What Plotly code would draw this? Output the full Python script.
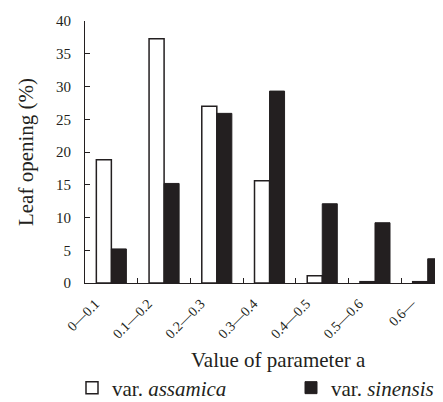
import plotly.graph_objects as go

categories = ["0—0.1", "0.1—0.2", "0.2—0.3", "0.3—0.4", "0.4—0.5", "0.5—0.6", "0.6—"]
assamica = [18.8, 37.3, 27.0, 15.6, 1.1, 0.2, 0.2]
sinensis = [5.2, 15.2, 25.9, 29.3, 12.1, 9.2, 3.7]
y_ticks = [0, 5, 10, 15, 20, 25, 30, 35, 40]

font_family = "Liberation Serif"
ink = "#231f20"
OFF = 8  # page body margin
W, H = 443 - OFF, 402 - OFF

fig = go.Figure()
fig.add_trace(go.Bar(
    x=categories, y=assamica, name="var. <i>assamica</i>", legend="legend",
    marker=dict(color="white", line=dict(color=ink, width=1.5)),
))
fig.add_trace(go.Bar(
    x=categories, y=sinensis, name="var. <i>sinensis</i>", legend="legend2",
    marker=dict(color=ink, line=dict(color=ink, width=1)),
))

legend_common = dict(
    orientation="h", xref="container", yref="container",
    xanchor="left", yanchor="middle",
    font=dict(size=21, family=font_family, color=ink),
    itemwidth=30, bgcolor="rgba(0,0,0,0)",
)

fig.update_layout(
    width=W, height=H,
    margin=dict(l=85 - OFF, r=0, t=21 - OFF, b=H - (283 - OFF)),
    paper_bgcolor="white", plot_bgcolor="white",
    barmode="group", bargap=0.43, bargroupgap=0,
    font=dict(family=font_family, color=ink, size=14),
    showlegend=True,
    legend=dict(legend_common, x=(72 - OFF) / W, y=1 - (388 - OFF) / H),
    legend2=dict(legend_common, x=(291 - OFF) / W, y=1 - (388 - OFF) / H),
    xaxis=dict(
        type="category", range=[-0.5, 6.29],
        showline=True, linecolor=ink, linewidth=1.2,
        ticks="inside", ticklen=5, tickcolor=ink, tickson="boundaries",
        tickangle=-45, tickfont=dict(size=14, family=font_family),
        ticklabelstandoff=6, ticklabelshift=-16,
        showgrid=False, automargin=False,
    ),
    yaxis=dict(
        range=[0, 40], tickvals=y_ticks,
        showline=True, linecolor=ink, linewidth=1.2,
        ticks="inside", ticklen=5, tickcolor=ink,
        tickfont=dict(size=15, family=font_family), ticklabelstandoff=10,
        title=dict(text="Leaf opening (%)", font=dict(size=21, family=font_family), standoff=16),
        showgrid=False, zeroline=False, automargin=False,
    ),
    annotations=[dict(
        text="Value of parameter a", xref="paper", yref="paper",
        x=(278 - 85) / 358, y=-(360 - 283) / 262, xanchor="center", yanchor="middle",
        showarrow=False, font=dict(size=21, family=font_family, color=ink),
    )],
)

fig.write_html("out.html")
